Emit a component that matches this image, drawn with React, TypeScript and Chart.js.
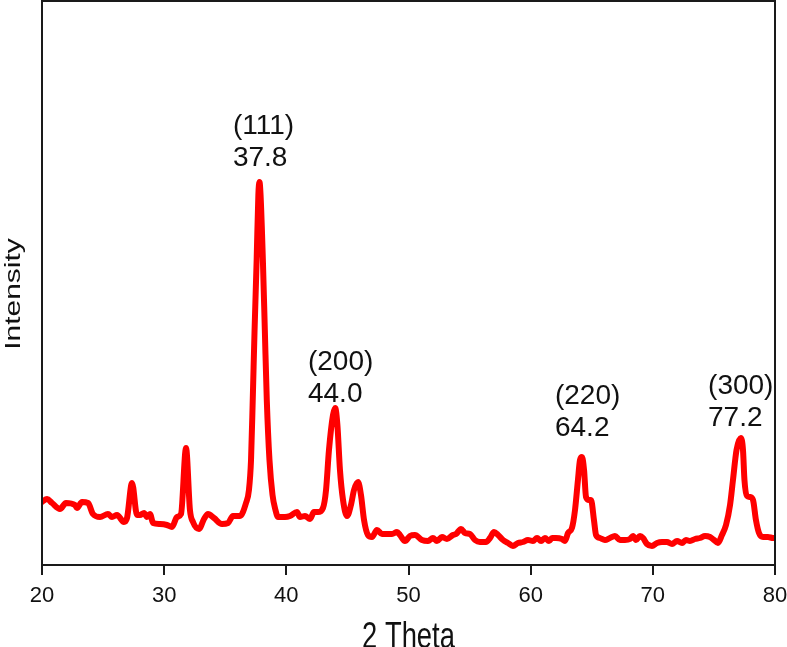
import React, { useEffect, useRef } from "react";
import { Chart, registerables } from "chart.js";

Chart.register(...registerables);

// XRD pattern (2θ in degrees, intensity in arbitrary units)
const twoTheta = [
  20.0, 20.41, 20.82, 21.47, 21.96, 22.7, 22.86, 23.27, 23.77, 24.17,
  24.75, 25.4, 25.73, 26.14, 26.71, 26.96, 27.37, 27.78, 28.02, 28.35,
  28.59, 28.84, 29.09, 29.66, 30.23, 30.64, 31.05, 31.38, 31.79, 32.11,
  32.36, 32.85, 33.26, 33.59, 34.08, 34.73, 35.23, 35.63, 36.21, 36.7,
  36.94, 37.11, 37.25, 37.4, 37.57, 37.71, 37.8, 37.89, 38.08, 38.24,
  38.4, 38.62, 38.87, 39.11, 39.32, 39.89, 40.3, 40.87, 41.12, 41.53,
  41.94, 42.26, 42.59, 43.0, 43.25, 43.49, 43.82, 44.0, 44.18, 44.39,
  44.64, 44.97, 45.29, 45.54, 45.87, 46.11, 46.36, 46.68, 47.01, 47.42,
  47.83, 48.16, 48.65, 49.06, 49.3, 49.71, 50.12, 50.53, 51.1, 51.6,
  52.0, 52.33, 52.74, 53.15, 53.64, 53.89, 54.3, 54.62, 55.03, 55.44,
  55.85, 56.34, 56.67, 57.0, 57.33, 57.74, 58.14, 58.55, 58.96, 59.37,
  59.78, 60.19, 60.52, 60.85, 61.17, 61.5, 61.75, 62.07, 62.56, 62.81,
  63.06, 63.38, 63.63, 63.87, 64.04, 64.2, 64.37, 64.53, 64.77, 64.94,
  65.18, 65.35, 65.67, 66.08, 66.49, 66.9, 67.31, 67.72, 68.13, 68.38,
  68.62, 68.95, 69.2, 69.52, 69.93, 70.34, 70.75, 71.16, 71.57, 71.98,
  72.39, 72.71, 73.04, 73.45, 73.86, 74.27, 74.68, 75.01, 75.33, 75.66,
  75.99, 76.32, 76.56, 76.85, 77.2, 77.38, 77.5, 77.71, 77.95, 78.2,
  78.44, 78.69, 79.02, 79.42, 79.84, 80.0,
];

const intensity = [
  63, 66, 62, 56, 62, 60, 57, 63, 62, 51,
  48, 51, 48, 50, 43, 47, 82, 50, 50, 52,
  48, 51, 42, 41, 40, 38, 48, 51, 117, 55,
  43, 36, 46, 51, 47, 41, 42, 49, 49, 62,
  75, 105, 165, 235, 305, 370, 383, 370, 305, 235,
  165, 105, 70, 55, 48, 48, 49, 53, 48, 49,
  46, 53, 53, 57, 75, 115, 150, 157, 140, 95,
  65, 49, 60, 75, 83, 70, 45, 30, 28, 35,
  31, 31, 31, 33, 30, 24, 29, 30, 25, 24,
  27, 24, 28, 26, 30, 31, 36, 32, 31, 25,
  23, 23, 27, 33, 30, 25, 22, 19, 22, 23,
  25, 24, 27, 24, 27, 24, 27, 27, 26, 24,
  32, 37, 55, 85, 105, 108, 95, 68, 65, 65,
  45, 30, 27, 25, 27, 29, 25, 25, 26, 29,
  25, 29, 27, 21, 19, 22, 23, 23, 21, 24,
  22, 25, 24, 26, 27, 29, 28, 25, 22, 30,
  40, 60, 85, 115, 127, 115, 85, 69, 68, 65,
  45, 32, 28, 28, 27, 27,
];

const xTickValues = [20, 30, 40, 50, 60, 70, 80];
const peakHkl = ["(111)", "(200)", "(220)", "(300)"];
const peakPosText = ["37.8", "44.0", "64.2", "77.2"];
const peakLabelX = [35.63, 41.77, 61.99, 74.52];
const peakLabelY = [399, 163, 129, 139];
const xTitle = "2 Theta";
const yTitle = "Intensity";

const FONT = '"Liberation Sans", Arial, sans-serif';
const INK = "#111111";

const framePlugin = {
  id: "frame",
  afterDatasetsDraw(chart: any) {
    const { ctx, chartArea } = chart;
    const { left, top, right, bottom } = chartArea;
    ctx.save();
    ctx.strokeStyle = "#1a1a1a";
    ctx.lineWidth = 2;
    ctx.strokeRect(left, top, right - left, bottom - top);
    ctx.restore();
  },
};

const peakLabelPlugin = {
  id: "peakLabels",
  afterDatasetsDraw(chart: any) {
    const { ctx } = chart;
    const xs = chart.scales.x;
    const ys = chart.scales.y;
    ctx.save();
    ctx.fillStyle = INK;
    ctx.font = `28px ${FONT}`;
    ctx.textAlign = "left";
    ctx.textBaseline = "alphabetic";
    for (let i = 0; i < peakHkl.length; i++) {
      const px = xs.getPixelForValue(peakLabelX[i]);
      const py = ys.getPixelForValue(peakLabelY[i]);
      ctx.fillText(peakHkl[i], px, py - 32);
      ctx.fillText(peakPosText[i], px, py);
    }
    ctx.restore();
  },
};

const titlePlugin = {
  id: "axisTitles",
  afterDraw(chart: any) {
    const { ctx, chartArea } = chart;
    ctx.save();
    ctx.fillStyle = INK;
    // x title
    ctx.font = `36px ${FONT}`;
    ctx.textAlign = "center";
    ctx.textBaseline = "alphabetic";
    ctx.translate((chartArea.left + chartArea.right) / 2, 648);
    ctx.scale(0.76, 1);
    ctx.fillText(xTitle, 0, 0);
    ctx.restore();

    ctx.save();
    ctx.fillStyle = INK;
    ctx.font = `22px ${FONT}`;
    ctx.textAlign = "center";
    ctx.textBaseline = "alphabetic";
    ctx.translate(20, 294);
    ctx.rotate(-Math.PI / 2);
    ctx.scale(1.36, 1);
    ctx.fillText(yTitle, 0, 0);
    ctx.restore();
  },
};

export default function App() {
  const canvasRef = useRef<HTMLCanvasElement | null>(null);

  useEffect(() => {
    const canvas = canvasRef.current;
    if (!canvas) return;
    const points = twoTheta.map((x, i) => ({ x, y: intensity[i] }));
    const chart = new Chart(canvas, {
      type: "line",
      data: {
        datasets: [
          {
            data: points,
            borderColor: "#ff0000",
            backgroundColor: "#ff0000",
            borderWidth: 6,
            pointRadius: 0,
            fill: false,
            cubicInterpolationMode: "monotone",
            borderJoinStyle: "round",
            borderCapStyle: "round",
          } as any,
        ],
      },
      options: {
        responsive: false,
        animation: false,
        devicePixelRatio: 1,
        layout: { padding: { top: 1, right: 12, left: 0, bottom: 0 } },
        plugins: {
          legend: { display: false },
          tooltip: { enabled: false },
        },
        scales: {
          x: {
            type: "linear",
            min: 20,
            max: 80,
            afterFit: (s: any) => {
              s.height = 82;
              s.paddingLeft = 0;
              s.paddingRight = 0;
            },
            afterBuildTicks: (s: any) => {
              s.ticks = xTickValues.map((v) => ({ value: v }));
            },
            border: { display: false },
            grid: {
              drawOnChartArea: false,
              drawTicks: true,
              tickLength: 10,
              color: "#1a1a1a",
              lineWidth: 2,
            },
            ticks: {
              font: { family: FONT, size: 22 },
              color: INK,
              padding: 8,
              maxRotation: 0,
              autoSkip: false,
            },
          },
          y: {
            type: "linear",
            min: 0,
            max: 564,
            afterFit: (s: any) => {
              s.width = 42;
            },
            border: { display: false },
            grid: { display: false },
            ticks: { display: false },
          },
        },
      },
      plugins: [framePlugin, peakLabelPlugin, titlePlugin],
    });
    return () => chart.destroy();
  }, []);

  return (
    <div style={{ position: "fixed", left: 0, top: 0, width: 787, height: 647, background: "#ffffff" }}>
      <canvas ref={canvasRef} width={787} height={647} style={{ display: "block" }} />
    </div>
  );
}
